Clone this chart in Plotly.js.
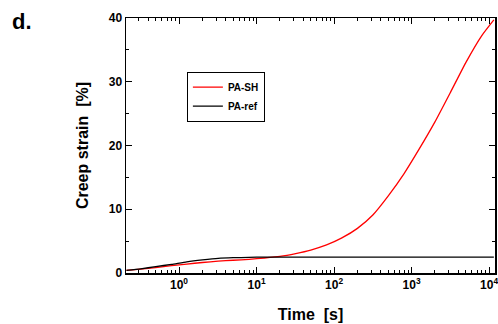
<!DOCTYPE html>
<html>
<head>
<meta charset="utf-8">
<script src="https://cdn.plot.ly/plotly-3.0.1.min.js"></script>
<style>html,body{margin:0;padding:0;background:#fff;}#plot{width:498px;height:324px;}</style>
</head>
<body>
<div id="plot"></div>
<script>
// Time [s] (shared sampling for both series)
const time = [0.21, 0.32, 0.5, 0.8, 1.26, 2, 3.2, 5, 8, 12.6, 20, 32, 50, 80, 126, 200, 316, 500, 800, 1260, 2000, 3160, 5000, 8000, 11500];
// Creep strain [%]
const strainSH  = [0.4, 0.6, 0.85, 1.15, 1.4, 1.65, 1.85, 2.0, 2.15, 2.35, 2.6, 3.05, 3.6, 4.4, 5.5, 7.0, 9.1, 12.1, 15.6, 19.5, 23.7, 28.3, 33.0, 37.2, 39.7];
const strainRef = [0.4, 0.65, 1.0, 1.35, 1.75, 2.05, 2.3, 2.4, 2.45, 2.5, 2.5, 2.5, 2.5, 2.5, 2.5, 2.5, 2.5, 2.5, 2.5, 2.5, 2.5, 2.5, 2.5, 2.5, 2.5];
const seriesNames = ["PA-SH", "PA-ref"];
const xTickVals = [1, 10, 100, 1000, 10000];
const xTickText = ["10<sup>0</sup>", "10<sup>1</sup>", "10<sup>2</sup>", "10<sup>3</sup>", "10<sup>4</sup>"];
const yTickVals = [0, 10, 20, 30, 40];

// minor tick positions on the log axis (2..9 of each decade)
const xMinor = [];
[0.1, 1, 10, 100, 1000, 10000].forEach(d => { for (let k = 2; k <= 9; k++) xMinor.push(d * k); });

const font = "Liberation Sans, Arial, sans-serif";
const traces = [
  {x: time, y: strainSH, name: seriesNames[0], mode: "lines",
   line: {color: "#ff0000", width: 1.3, shape: "spline", smoothing: 0.5}},
  {x: time, y: strainRef, name: seriesNames[1], mode: "lines",
   line: {color: "#000000", width: 1.3, shape: "spline", smoothing: 0.5}}
];
const layout = {
  width: 498, height: 324,
  margin: {l: 126, r: 3, t: 18, b: 51, pad: 0},
  paper_bgcolor: "#fff", plot_bgcolor: "#fff",
  font: {family: font, color: "#000", size: 11},
  showlegend: true,
  legend: {x: 0.165, y: 0.79, xanchor: "left", yanchor: "top",
    bordercolor: "#000", borderwidth: 1, bgcolor: "#fff",
    font: {family: font, size: 10, weight: "bold"}, itemwidth: 30, tracegroupgap: 0},
  xaxis: {
    type: "log", range: [Math.log10(0.207), Math.log10(11900)],
    tickvals: xTickVals, ticktext: xTickText,
    ticks: "inside", ticklen: 6, tickwidth: 1, tickcolor: "#000",
    minor: {tickvals: xMinor, ticks: "inside", ticklen: 3, tickwidth: 1, tickcolor: "#000", showgrid: false},
    showline: true, linecolor: "#000", linewidth: 1.5, mirror: "allticks",
    showgrid: false, zeroline: false, ticklabeloverflow: "allow",
    tickfont: {family: font, size: 12, weight: "bold"},
    title: {text: "Time\u00a0 [s]", font: {family: font, size: 16, weight: "bold"}, standoff: 18}
  },
  yaxis: {
    range: [0, 40], tickvals: yTickVals,
    ticks: "inside", ticklen: 6, tickwidth: 1, tickcolor: "#000",
    minor: {ticks: "inside", ticklen: 3, tickwidth: 1, tickcolor: "#000", dtick: 5, showgrid: false},
    showline: true, linecolor: "#000", linewidth: 1.5, mirror: "allticks",
    showgrid: false, zeroline: false,
    tickfont: {family: font, size: 12, weight: "bold"},
    title: {text: "Creep strain\u00a0 [%]", font: {family: font, size: 16, weight: "bold"}, standoff: 16}
  },
  annotations: [{text: "d.", xref: "paper", yref: "paper", x: -0.315, y: 1.045,
    xanchor: "left", yanchor: "top", showarrow: false,
    font: {family: font, size: 22, weight: "bold"}}]
};
Plotly.newPlot("plot", traces, layout, {displayModeBar: false, staticPlot: true});
</script>
</body>
</html>
